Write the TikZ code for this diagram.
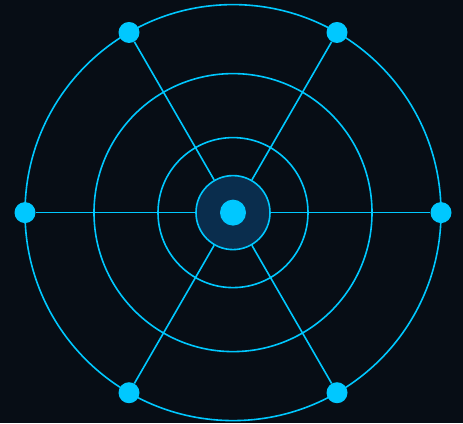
\documentclass[tikz,border=0pt]{standalone}
\usetikzlibrary{calc}
\definecolor{bg}{HTML}{070D15}
\definecolor{cy}{HTML}{00C8FF}
\definecolor{hubfill}{HTML}{0A2D4D}
\begin{document}
\begin{tikzpicture}[x=1pt,y=-1pt,
  ring/.style={draw=cy,line width=1.6pt},
  spoke/.style={draw=cy,line width=1.6pt},
  dotnode/.style={circle,fill=cy,inner sep=0pt,minimum size=21pt},
  hubnode/.style={circle,draw=cy,line width=1.6pt,fill=hubfill,inner sep=0pt,minimum size=74pt},
  cdot/.style={circle,fill=cy,inner sep=0pt,minimum size=26pt}]
\fill[bg] (0,0) rectangle (463,423);
\useasboundingbox (0,0) rectangle (463,423);
\coordinate (c) at (233,212.6);
\draw[ring] (c) circle (208);
\draw[ring] (c) circle (139);
\draw[ring] (c) circle (75);
\node[hubnode] (hub) at (c) {};
\foreach \a/\n in {0/d0,60/d60,120/d120,180/d180,240/d240,300/d300}{
  \node[dotnode] (\n) at ($(c)+(\a:208)$) {};
}
\foreach \n in {d0,d60,d120,d180,d240,d300}{
  \draw[spoke] (hub) -- (\n);
}
\node[cdot] (center) at (c) {};
\end{tikzpicture}
\end{document}
